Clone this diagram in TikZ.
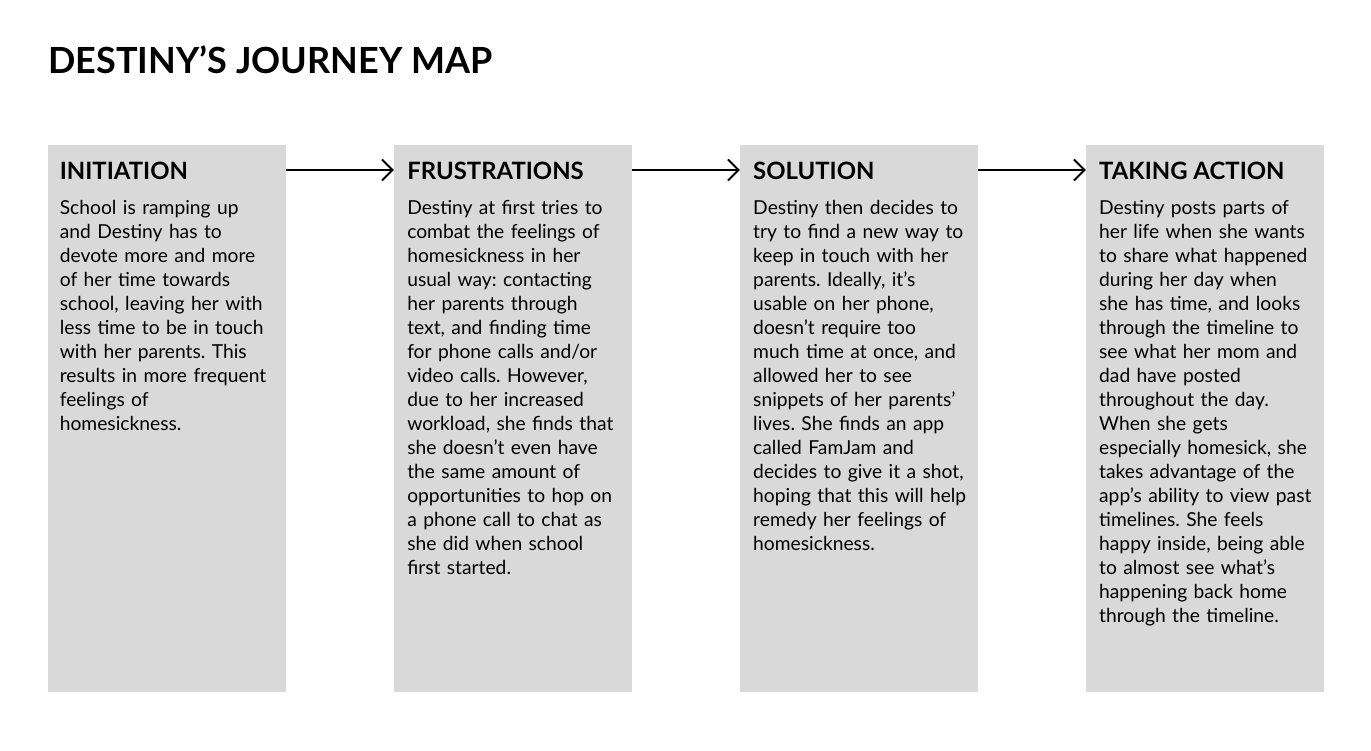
\documentclass[tikz,border=0pt]{standalone}
\usepackage{fontspec}
\setmainfont{Lato}
\frenchspacing
\usetikzlibrary{positioning, arrows.meta}
\definecolor{stagegray}{HTML}{D9D9D9}
\tikzstyle{stage} = [rectangle, anchor=north west, inner sep=0pt, outer sep=0pt, minimum width=4.76cm, minimum height=10.94cm, fill=stagegray]
\tikzstyle{heading} = [anchor=base west, inner sep=0pt, font=\bfseries\fontsize{13.6}{16}\selectfont]
\tikzstyle{body} = [anchor=base west, inner sep=0pt, text width=4.7cm, align=left, font=\fontsize{10.95}{13.66}\selectfont]
\tikzstyle{arrow} = [line width=1.1pt, -{Straight Barb[length=6pt, width=12pt]}]

\begin{document}
\begin{tikzpicture}[x=0.02cm, y=-0.02cm]
				\useasboundingbox (0,0) rectangle (1371,750);
				\node (title) [anchor=base west, inner sep=0pt, font=\bfseries\fontsize{20.5}{24}\selectfont] at (48,73) {DESTINY’S JOURNEY MAP};

				\node (init) [stage] at (48,145) {};
				\node (frus) [stage, right=2.16cm of init.north east, anchor=north west] {};
				\node (solu) [stage, right=2.16cm of frus.north east, anchor=north west] {};
				\node (act) [stage, right=2.16cm of solu.north east, anchor=north west] {};

				\node (initHead) [heading] at ([shift={(11.5,34)}]init.north west) {INITIATION};
				\node (frusHead) [heading] at ([shift={(13,34)}]frus.north west) {FRUSTRATIONS};
				\node (soluHead) [heading] at ([shift={(13,34)}]solu.north west) {SOLUTION};
				\node (actHead) [heading] at ([shift={(13,34)}]act.north west) {TAKING ACTION};

				\node (initText) [body] at ([shift={(11.5,69)}]init.north west) {School is ramping up\\ and Destiny has to\\ devote more and more\\ of her time towards\\ school, leaving her with\\ less time to be in touch\\ with her parents. This\\ results in more frequent\\ feelings of\\ homesickness.};
				\node (frusText) [body] at ([shift={(13,69)}]frus.north west) {Destiny at first tries to\\ combat the feelings of\\ homesickness in her\\ usual way: contacting\\ her parents through\\ text, and finding time\\ for phone calls and/or\\ video calls. However,\\ due to her increased\\ workload, she finds that\\ she doesn’t even have\\ the same amount of\\ opportunities to hop on\\ a phone call to chat as\\ she did when school\\ first started.};
				\node (soluText) [body] at ([shift={(13,69)}]solu.north west) {Destiny then decides to\\ try to find a new way to\\ keep in touch with her\\ parents. Ideally, it’s\\ usable on her phone,\\ doesn’t require too\\ much time at once, and\\ allowed her to see\\ snippets of her parents’\\ lives. She finds an app\\ called FamJam and\\ decides to give it a shot,\\ hoping that this will help\\ remedy her feelings of\\ homesickness.};
				\node (actText) [body] at ([shift={(13,69)}]act.north west) {Destiny posts parts of\\ her life when she wants\\ to share what happened\\ during her day when\\ she has time, and looks\\ through the timeline to\\ see what her mom and\\ dad have posted\\ throughout the day.\\ When she gets\\ especially homesick, she\\ takes advantage of the\\ app’s ability to view past\\ timelines. She feels\\ happy inside, being able\\ to almost see what’s\\ happening back home\\ through the timeline.};

				% pijlen tussen de fases
				\draw [arrow] ([yshift=-0.5cm]init.north east) -- ([yshift=-0.5cm]frus.north west);
				\draw [arrow] ([yshift=-0.5cm]frus.north east) -- ([yshift=-0.5cm]solu.north west);
				\draw [arrow] ([yshift=-0.5cm]solu.north east) -- ([yshift=-0.5cm]act.north west);

\end{tikzpicture}
\end{document}
